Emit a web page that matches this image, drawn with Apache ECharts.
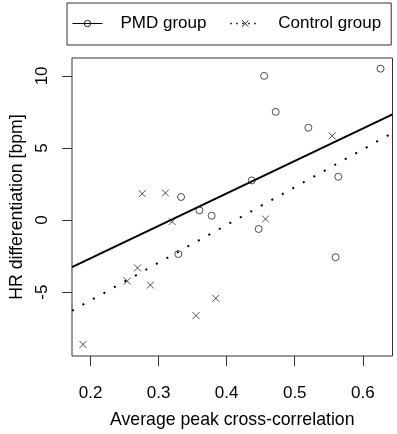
<!DOCTYPE html>
<html>
<head>
<meta charset="utf-8">
<script src="https://cdn.jsdelivr.net/npm/echarts@6/dist/echarts.min.js"></script>
<style>
  html, body { margin: 0; padding: 0; background: #fff; }
  #chart { width: 397px; height: 434px; }
</style>
</head>
<body>
<div id="chart"></div>
<script>
// PMD group points [peak cross-correlation, HR differentiation]
var pmdPoints = [
  [0.455, 10.0], [0.626, 10.5], [0.472, 7.5], [0.520, 6.4],
  [0.437, 2.75], [0.564, 3.0], [0.333, 1.6], [0.360, 0.67],
  [0.378, 0.3], [0.447, -0.62], [0.329, -2.36], [0.560, -2.58]
];
// Control group points
var controlPoints = [
  [0.555, 5.84], [0.276, 1.83], [0.310, 1.88], [0.320, -0.11],
  [0.457, 0.07], [0.269, -3.32], [0.254, -4.23], [0.288, -4.51],
  [0.384, -5.43], [0.355, -6.63], [0.189, -8.63]
];
// regression lines read at the plot edges
var pmdLine = [[0.1728, -3.27], [0.6436, 7.33]];
var controlLine = [[0.1728, -6.29], [0.6436, 6.04]];

var xTicks = [0.2, 0.3, 0.4, 0.5, 0.6];
var yTicks = [-5, 0, 5, 10];
var xRange = [0.1728, 0.6436];
var yRange = [-9.43, 11.24];

var FONT = 'Liberation Sans, Arial, sans-serif';
var crossPath = 'path://M0,0L10,10M10,0L0,10';

var myChart = echarts.init(document.getElementById('chart'));

var markerStyle = { color: 'rgba(0,0,0,0)', borderColor: '#222', borderWidth: 1 };

myChart.setOption({
  animation: false,
  backgroundColor: '#fff',
  textStyle: { fontFamily: FONT },
  grid: {
    left: 69, right: 4.5, top: 58, bottom: 74.7,
    show: true, borderColor: '#333', borderWidth: 1
  },
  legend: {
    left: 67, top: 3,
    orient: 'horizontal',
    borderColor: '#333', borderWidth: 1,
    padding: [12, 10, 13, 5],
    itemWidth: 30, itemHeight: 8, itemGap: 23,
    selectedMode: false,
    textStyle: { fontSize: 17, color: '#000', fontFamily: FONT, padding: [0, 0, 0, 13] },
    data: [
      { name: 'PMD group',
        itemStyle: markerStyle,
        lineStyle: { width: 1, color: '#000', type: 'solid' } },
      { name: 'Control group',
        itemStyle: markerStyle,
        lineStyle: { width: 1.5, color: '#000', type: [1.5, 4.5] } }
    ]
  },
  xAxis: {
    type: 'value', min: xRange[0], max: xRange[1],
    name: 'Average peak cross-correlation',
    nameLocation: 'middle', nameGap: 55,
    nameTextStyle: { fontSize: 17.7, color: '#000', fontFamily: FONT },
    axisLine: { show: false, onZero: false },
    splitLine: { show: false },
    axisTick: { show: true, length: 10, inside: false, customValues: xTicks,
      lineStyle: { color: '#333', width: 1 } },
    axisLabel: { fontSize: 17, color: '#000', margin: 29, customValues: xTicks,
      formatter: function (v) { return v.toFixed(1); } }
  },
  yAxis: {
    type: 'value', min: yRange[0], max: yRange[1],
    name: 'HR differentiation [bpm]',
    nameLocation: 'middle', nameGap: 46, nameRotate: 90,
    nameTextStyle: { fontSize: 17.7, color: '#000', fontFamily: FONT },
    axisLine: { show: false, onZero: false },
    splitLine: { show: false },
    axisTick: { show: true, length: 10, inside: false, customValues: yTicks,
      lineStyle: { color: '#333', width: 1 } },
    axisLabel: { fontSize: 17, color: '#000', margin: 21, rotate: 90, customValues: yTicks }
  },
  series: [
    {
      name: 'PMD group', type: 'line', data: pmdLine,
      symbol: 'circle', showSymbol: false, symbolSize: 7,
      itemStyle: markerStyle,
      lineStyle: { color: '#000', width: 2 },
      silent: true, z: 3
    },
    {
      name: 'Control group', type: 'line', data: controlLine,
      symbol: crossPath, showSymbol: false, symbolSize: 7,
      itemStyle: markerStyle,
      lineStyle: { color: '#000', width: 2, type: [2, 10] },
      silent: true, z: 3
    },
    {
      name: 'PMD group', type: 'scatter', data: pmdPoints,
      symbol: 'circle', symbolSize: 7,
      itemStyle: markerStyle, z: 4
    },
    {
      name: 'Control group', type: 'scatter', data: controlPoints,
      symbol: crossPath, symbolSize: 7,
      itemStyle: markerStyle, z: 4
    }
  ]
});
</script>
</body>
</html>
